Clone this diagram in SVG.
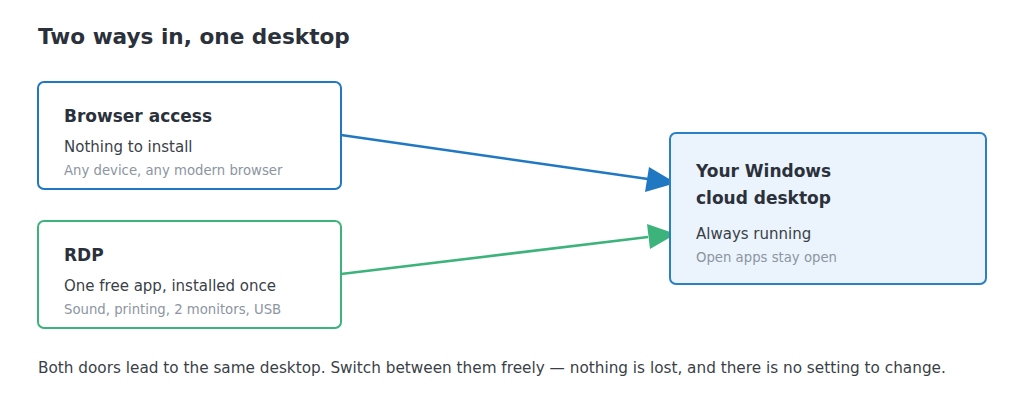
<svg xmlns="http://www.w3.org/2000/svg" width="1024" height="405" viewBox="0 0 1024 405">
<style>
text{font-family:"DejaVu Sans","Liberation Sans",sans-serif;}
.title{font-size:21.6px;font-weight:bold;fill:#2b313b;}
.h{font-size:17px;font-weight:bold;fill:#2b313b;}
.b{font-size:15px;fill:#3a3f47;}
.s{font-size:13.25px;fill:#8c95a1;}
.foot{font-size:15.27px;fill:#3a3f47;}
.box{stroke-width:2;}
</style>
<rect width="1024" height="405" fill="#ffffff"/>
<text class="title" x="38" y="44">Two ways in, one desktop</text>
<g id="connectors">
<line x1="341" y1="135" x2="648" y2="179" stroke="#1f78c1" stroke-width="2.5"/>
<path d="M676,183 L645,192 L649,167 z" fill="#1f78c1"/>
<line x1="341" y1="274" x2="648" y2="237" stroke="#3db37c" stroke-width="2.5"/>
<path d="M676,234 L650,249 L647,224 z" fill="#3db37c"/>
</g>
<g id="browser">
<rect class="box" x="38" y="82" width="303" height="107" rx="6" fill="#ffffff" stroke="#1f78c1"/>
<text class="h" x="64" y="122">Browser access</text>
<text class="b" x="64" y="152">Nothing to install</text>
<text class="s" x="64" y="175">Any device, any modern browser</text>
</g>
<g id="rdp">
<rect class="box" x="38" y="221" width="303" height="107" rx="6" fill="#ffffff" stroke="#3db37c"/>
<text class="h" x="64" y="261">RDP</text>
<text class="b" x="64" y="291">One free app, installed once</text>
<text class="s" x="64" y="314">Sound, printing, 2 monitors, USB</text>
</g>
<g id="desktop">
<rect class="box" x="670" y="133" width="316" height="151" rx="6" fill="#ebf4fc" stroke="#2a80c6"/>
<text class="h" x="696" y="177">Your Windows</text>
<text class="h" x="696" y="204">cloud desktop</text>
<text class="b" x="696" y="239">Always running</text>
<text class="s" x="696" y="262">Open apps stay open</text>
</g>
<text class="foot" x="38" y="373">Both doors lead to the same desktop. Switch between them freely — nothing is lost, and there is no setting to change.</text>
</svg>
